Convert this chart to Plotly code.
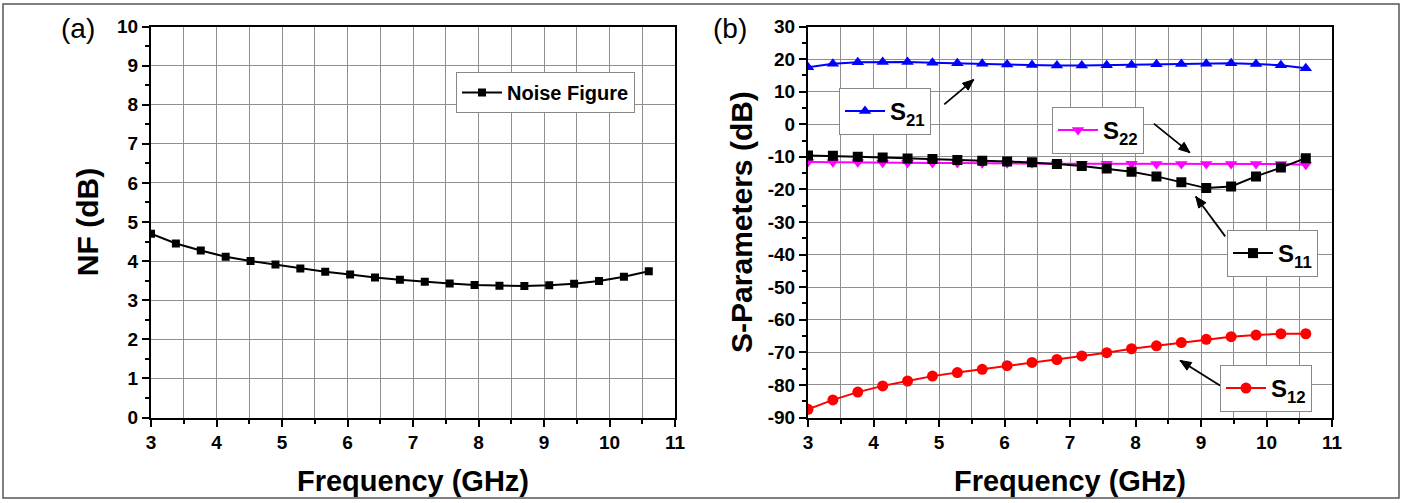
import math
import plotly.graph_objects as go

W, H = 1403, 503

freq = [3.0, 3.38, 3.76, 4.14, 4.52, 4.9, 5.28, 5.66, 6.04, 6.42, 6.8,
        7.18, 7.56, 7.94, 8.32, 8.7, 9.08, 9.46, 9.84, 10.22, 10.6]

nf = [4.70, 4.45, 4.27, 4.11, 4.00, 3.91, 3.81, 3.73, 3.66, 3.58, 3.52,
      3.47, 3.43, 3.39, 3.37, 3.36, 3.38, 3.42, 3.49, 3.60, 3.74]

s21 = [17.5, 18.6, 19.0, 19.1, 19.1, 18.9, 18.7, 18.6, 18.3, 18.2, 18.0,
       18.0, 18.1, 18.2, 18.4, 18.5, 18.6, 18.7, 18.5, 18.1, 17.2]

s22 = [-11.6, -11.7, -11.7, -11.8, -11.8, -11.9, -11.9, -12.0, -12.0, -12.0, -12.1,
       -12.1, -12.1, -12.1, -12.2, -12.2, -12.2, -12.2, -12.2, -12.2, -12.4]

s11 = [-9.6, -9.7, -10.0, -10.2, -10.5, -10.7, -11.0, -11.2, -11.4, -11.7, -12.2,
       -12.8, -13.6, -14.6, -16.0, -17.8, -19.6, -19.1, -16.0, -13.3, -10.4]

s12 = [-87.5, -84.6, -82.2, -80.3, -78.8, -77.3, -76.2, -75.2, -74.1, -73.1, -72.2,
       -71.1, -70.1, -68.9, -68.0, -67.0, -66.0, -65.2, -64.7, -64.3, -64.3]

nf_ticks = list(range(0, 11))
sp_ticks = list(range(-90, 31, 10))
f_ticks = list(range(3, 12))

FONT = "Liberation Sans, Arial, sans-serif"

# plot-area pixel geometry
L1, R1, L2, R2, TOP, BOT = 151, 675, 808, 1332, 26.5, 417.5


def px(x):
    return x / W


def py(y):
    return 1 - y / H


fig = go.Figure()

fig.add_trace(go.Scatter(x=freq, y=nf, mode="lines+markers", name="Noise Figure",
                         line=dict(color="black", width=2),
                         marker=dict(symbol="square", size=8, color="black"),
                         xaxis="x", yaxis="y", legend="legend"))

series = [
    ("S<sub>21</sub>", s21, "#0000ff", "triangle-up", "legend2"),
    ("S<sub>22</sub>", s22, "#ff00ff", "triangle-down", "legend3"),
    ("S<sub>11</sub>", s11, "black", "square", "legend4"),
    ("S<sub>12</sub>", s12, "#ff0000", "circle", "legend5"),
]
for name, vals, col, sym, leg in series:
    fig.add_trace(go.Scatter(x=freq, y=vals, mode="lines+markers", name=name,
                             line=dict(color=col, width=2),
                             marker=dict(symbol=sym, size=11 if sym != "square" else 10, color=col),
                             xaxis="x2", yaxis="y2", legend=leg))

tickfont = dict(family=FONT, size=19, color="black", weight="bold")
titlefont = dict(family=FONT, size=29, color="black", weight="bold")


def lab(v):
    return "<b>" + str(v).replace("\u2212", "-") + "</b>"


common_x = dict(range=[3, 11], tickvals=f_ticks, ticktext=[lab(v) for v in f_ticks],
                showline=True, linecolor="black",
                linewidth=2, mirror=True, ticks="outside", ticklen=7, tickwidth=2,
                tickcolor="black", showgrid=True, gridcolor="#8f8f8f", gridwidth=1,
                minor=dict(dtick=0.5, ticks="outside", ticklen=4, tickcolor="black",
                           tickwidth=1.5, showgrid=True, gridcolor="#8f8f8f", gridwidth=1),
                tickfont=tickfont, zeroline=False,
                title=dict(text="Frequency (GHz)", font=titlefont, standoff=18))

yd = [py(BOT), py(TOP)]
ytitlefont = dict(family=FONT, size=30, color="black", weight="bold")

fig.update_layout(
    width=W, height=H,
    margin=dict(l=0, r=0, t=0, b=0, autoexpand=False),
    paper_bgcolor="white", plot_bgcolor="white",
    xaxis=dict(domain=[px(L1), px(R1)], anchor="y", **common_x),
    xaxis2=dict(domain=[px(L2), px(R2)], anchor="y2", **common_x),
    yaxis=dict(domain=yd, anchor="x", range=[0, 10], tickvals=nf_ticks,
               ticktext=[lab(v) for v in nf_ticks],
               showline=True, linecolor="black", linewidth=2, mirror=True,
               ticks="outside", ticklen=7, tickwidth=2, tickcolor="black",
               showgrid=True, gridcolor="#8f8f8f", gridwidth=1, zeroline=False,
               minor=dict(dtick=0.5, ticks="outside", ticklen=4, tickcolor="black",
                          tickwidth=1.5, showgrid=False),
               tickfont=tickfont,
               title=dict(text="NF (dB)", font=ytitlefont, standoff=10)),
    yaxis2=dict(domain=yd, anchor="x2", range=[-90, 30], tickvals=sp_ticks,
                ticktext=[lab(v) for v in sp_ticks],
                showline=True, linecolor="black", linewidth=2, mirror=True,
                ticks="outside", ticklen=7, tickwidth=2, tickcolor="black",
                showgrid=True, gridcolor="#8f8f8f", gridwidth=1, zeroline=False,
                minor=dict(dtick=5, ticks="outside", ticklen=4, tickcolor="black",
                           tickwidth=1.5, showgrid=False),
                tickfont=tickfont,
                title=dict(text="S-Parameters (dB)", font=ytitlefont, standoff=6)),
    showlegend=True,
)

legfont = dict(family=FONT, size=20, color="black", weight="bold")
legfont2 = dict(family=FONT, size=24, color="black", weight="bold")
leg_common = dict(xanchor="left", yanchor="top", xref="paper", yref="paper",
                  bgcolor="white", bordercolor="#888888", borderwidth=1,
                  itemwidth=40)
fig.update_layout(
    legend=dict(x=px(456), y=py(72), font=legfont, **leg_common),
    legend2=dict(x=px(839), y=py(88), font=legfont2, **leg_common),
    legend3=dict(x=px(1052), y=py(107), font=legfont2, **leg_common),
    legend4=dict(x=px(1227), y=py(230), font=legfont2, **leg_common),
    legend5=dict(x=px(1220), y=py(365), font=legfont2, **leg_common),
)

# panel labels
fig.add_annotation(text="(a)", x=px(78), y=py(28), xref="paper", yref="paper",
                   xanchor="center", yanchor="middle", showarrow=False,
                   font=dict(family=FONT, size=28, color="black"))
fig.add_annotation(text="(b)", x=px(730), y=py(28), xref="paper", yref="paper",
                   xanchor="center", yanchor="middle", showarrow=False,
                   font=dict(family=FONT, size=28, color="black"))

# arrows from legends to curves, drawn as shapes on the S-parameter axes
arrows = [
    (5.08, 6.1, 5.53, 13.7),
    (8.28, 0.2, 8.83, -8.7),
    (9.37, -34.4, 8.92, -22.2),
    (9.29, -80.2, 8.68, -72.5),
]
sx = (R2 - L2) / 8.0
sy = (BOT - TOP) / 120.0


def to_px(x, y):
    return L2 + (x - 3) * sx, TOP + (30 - y) * sy


def to_data(X, Y):
    return 3 + (X - L2) / sx, 30 - (Y - TOP) / sy


for tx, ty, hx, hy in arrows:
    fig.add_shape(type="line", xref="x2", yref="y2", x0=tx, y0=ty, x1=hx, y1=hy,
                  line=dict(color="black", width=1.8))
    TX, TY = to_px(tx, ty)
    HX, HY = to_px(hx, hy)
    ang = math.atan2(HY - TY, HX - TX)
    ln, hw = 11, 4.5
    bx, by = HX - ln * math.cos(ang), HY - ln * math.sin(ang)
    p1 = to_data(bx + hw * math.sin(ang), by - hw * math.cos(ang))
    p2 = to_data(bx - hw * math.sin(ang), by + hw * math.cos(ang))
    fig.add_shape(type="path", xref="x2", yref="y2",
                  path=f"M {hx} {hy} L {p1[0]} {p1[1]} L {p2[0]} {p2[1]} Z",
                  fillcolor="black", line=dict(color="black", width=1))

# outer frame
fig.add_shape(type="rect", xref="paper", yref="paper",
              x0=px(3), x1=px(1399), y0=py(498), y1=py(4),
              line=dict(color="#555555", width=1.5))

fig.write_html("out.html")
